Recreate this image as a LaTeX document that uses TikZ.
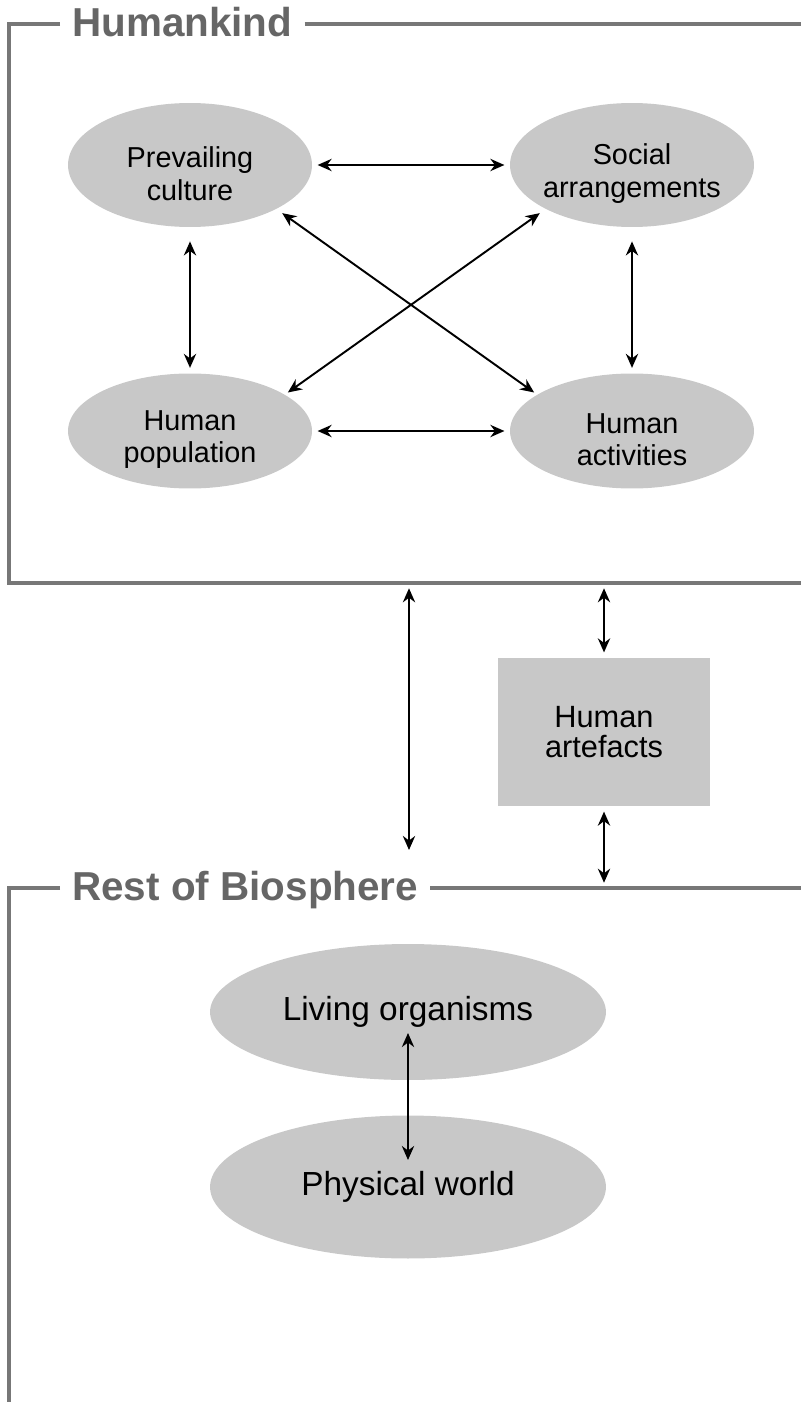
\documentclass[tikz,border=0pt]{standalone}
\usepackage{fontspec}
\setmainfont{Liberation Sans}
\usepackage{xcolor}
\usepackage{tikz}
\usetikzlibrary{positioning,arrows.meta,shapes.geometric,calc}
\definecolor{bubbleGray}{HTML}{C8C8C8}
\definecolor{frameGray}{HTML}{777777}
\definecolor{titleGray}{HTML}{666666}

\begin{document}
\begin{tikzpicture}[x=0.02cm, y=-0.02cm,
  bubble/.style={ellipse, fill=bubbleGray, inner sep=0pt,
    minimum width=4.88cm},
  bubbletext/.style={align=center, yshift=-5pt,
    font=\fontsize{16.4}{18.5}\selectfont},
  bigbubble/.style={ellipse, fill=bubbleGray, inner sep=0pt,
    minimum width=7.92cm, font=\fontsize{19}{22}\selectfont},
  artbox/.style={rectangle, fill=bubbleGray, align=center, inner sep=0pt,
    font=\fontsize{17.5}{17.5}\selectfont},
  link/.style={{Stealth[length=8pt,width=7pt]}-{Stealth[length=8pt,width=7pt]},
    line width=1.1pt, shorten <=3pt, shorten >=3pt},
  frameline/.style={draw=frameGray, line width=2pt},
  frametitle/.style={anchor=base west, text=titleGray, inner xsep=6.8pt,
    inner ysep=0pt, font=\fontsize{23}{27}\selectfont\bfseries}]
  \useasboundingbox (0,0) rectangle (801,1402);

  % frames
  \coordinate (hkTop) at (801,24);
  \coordinate (hkBot) at (801,583);
  \coordinate (rbTop) at (801,888);
  \node[frametitle] (hkTitle) at (60,37) {Humankind};
  \node[frametitle] (rbTitle) at (60,900) {Rest of Biosphere};
  \draw[frameline] (hkTitle.west |- hkTop) -- (9,24) -- (9,583) -- (hkBot);
  \draw[frameline] (hkTitle.east |- hkTop) -- (hkTop);
  \draw[frameline] (rbTitle.west |- rbTop) -- (9,888) -- (9,1402);
  \draw[frameline] (rbTitle.east |- rbTop) -- (rbTop);

  % humankind
  \node[bubble, minimum height=2.48cm, label={[bubbletext]center:Prevailing\\culture}] (culture) at (190,165) {};
  \node[bubble, minimum height=2.48cm, label={[bubbletext]center:Social\\arrangements}] (social) at (632,165) {};
  \node[bubble, minimum height=2.3cm, label={[bubbletext]center:Human\\population}] (population) at (190,431) {};
  \node[bubble, minimum height=2.3cm, label={[bubbletext]center:Human\\activities}] (activities) at (632,431) {};

  \draw[link] (culture.east) -- (social.west);
  \draw[link] (population.east) -- (activities.west);
  \draw[link, shorten <=8pt] (culture) -- (population);
  \draw[link, shorten <=8pt] (social) -- (activities);
  \draw[link, shorten <=4pt, shorten >=2pt] (culture.-27) -- (activities.159);
  \draw[link, shorten <=4pt, shorten >=2pt] (social.207) -- (population.21);

  % artefacts
  \node[artbox, minimum width=4.24cm, minimum height=2.96cm] (artefacts) at (604,732) {Human\\artefacts};
  \coordinate (direct) at (409,850);
  \draw[link, shorten >=0pt] (direct |- hkBot) -- (direct);
  \draw[link] (artefacts.north |- hkBot) -- (artefacts.north);
  \draw[link] (artefacts.south) -- (artefacts.south |- rbTop);

  % rest of biosphere
  \node[bigbubble, minimum height=2.72cm] (living) at (408,1012) {Living organisms};
  \node[bigbubble, minimum height=2.86cm] (physical) at (408,1187) {Physical world};
  \draw[link, shorten <=0pt, shorten >=0pt] ($(living.center)+(0,21)$) -- ($(physical.center)+(0,-27)$);
\end{tikzpicture}
\end{document}
